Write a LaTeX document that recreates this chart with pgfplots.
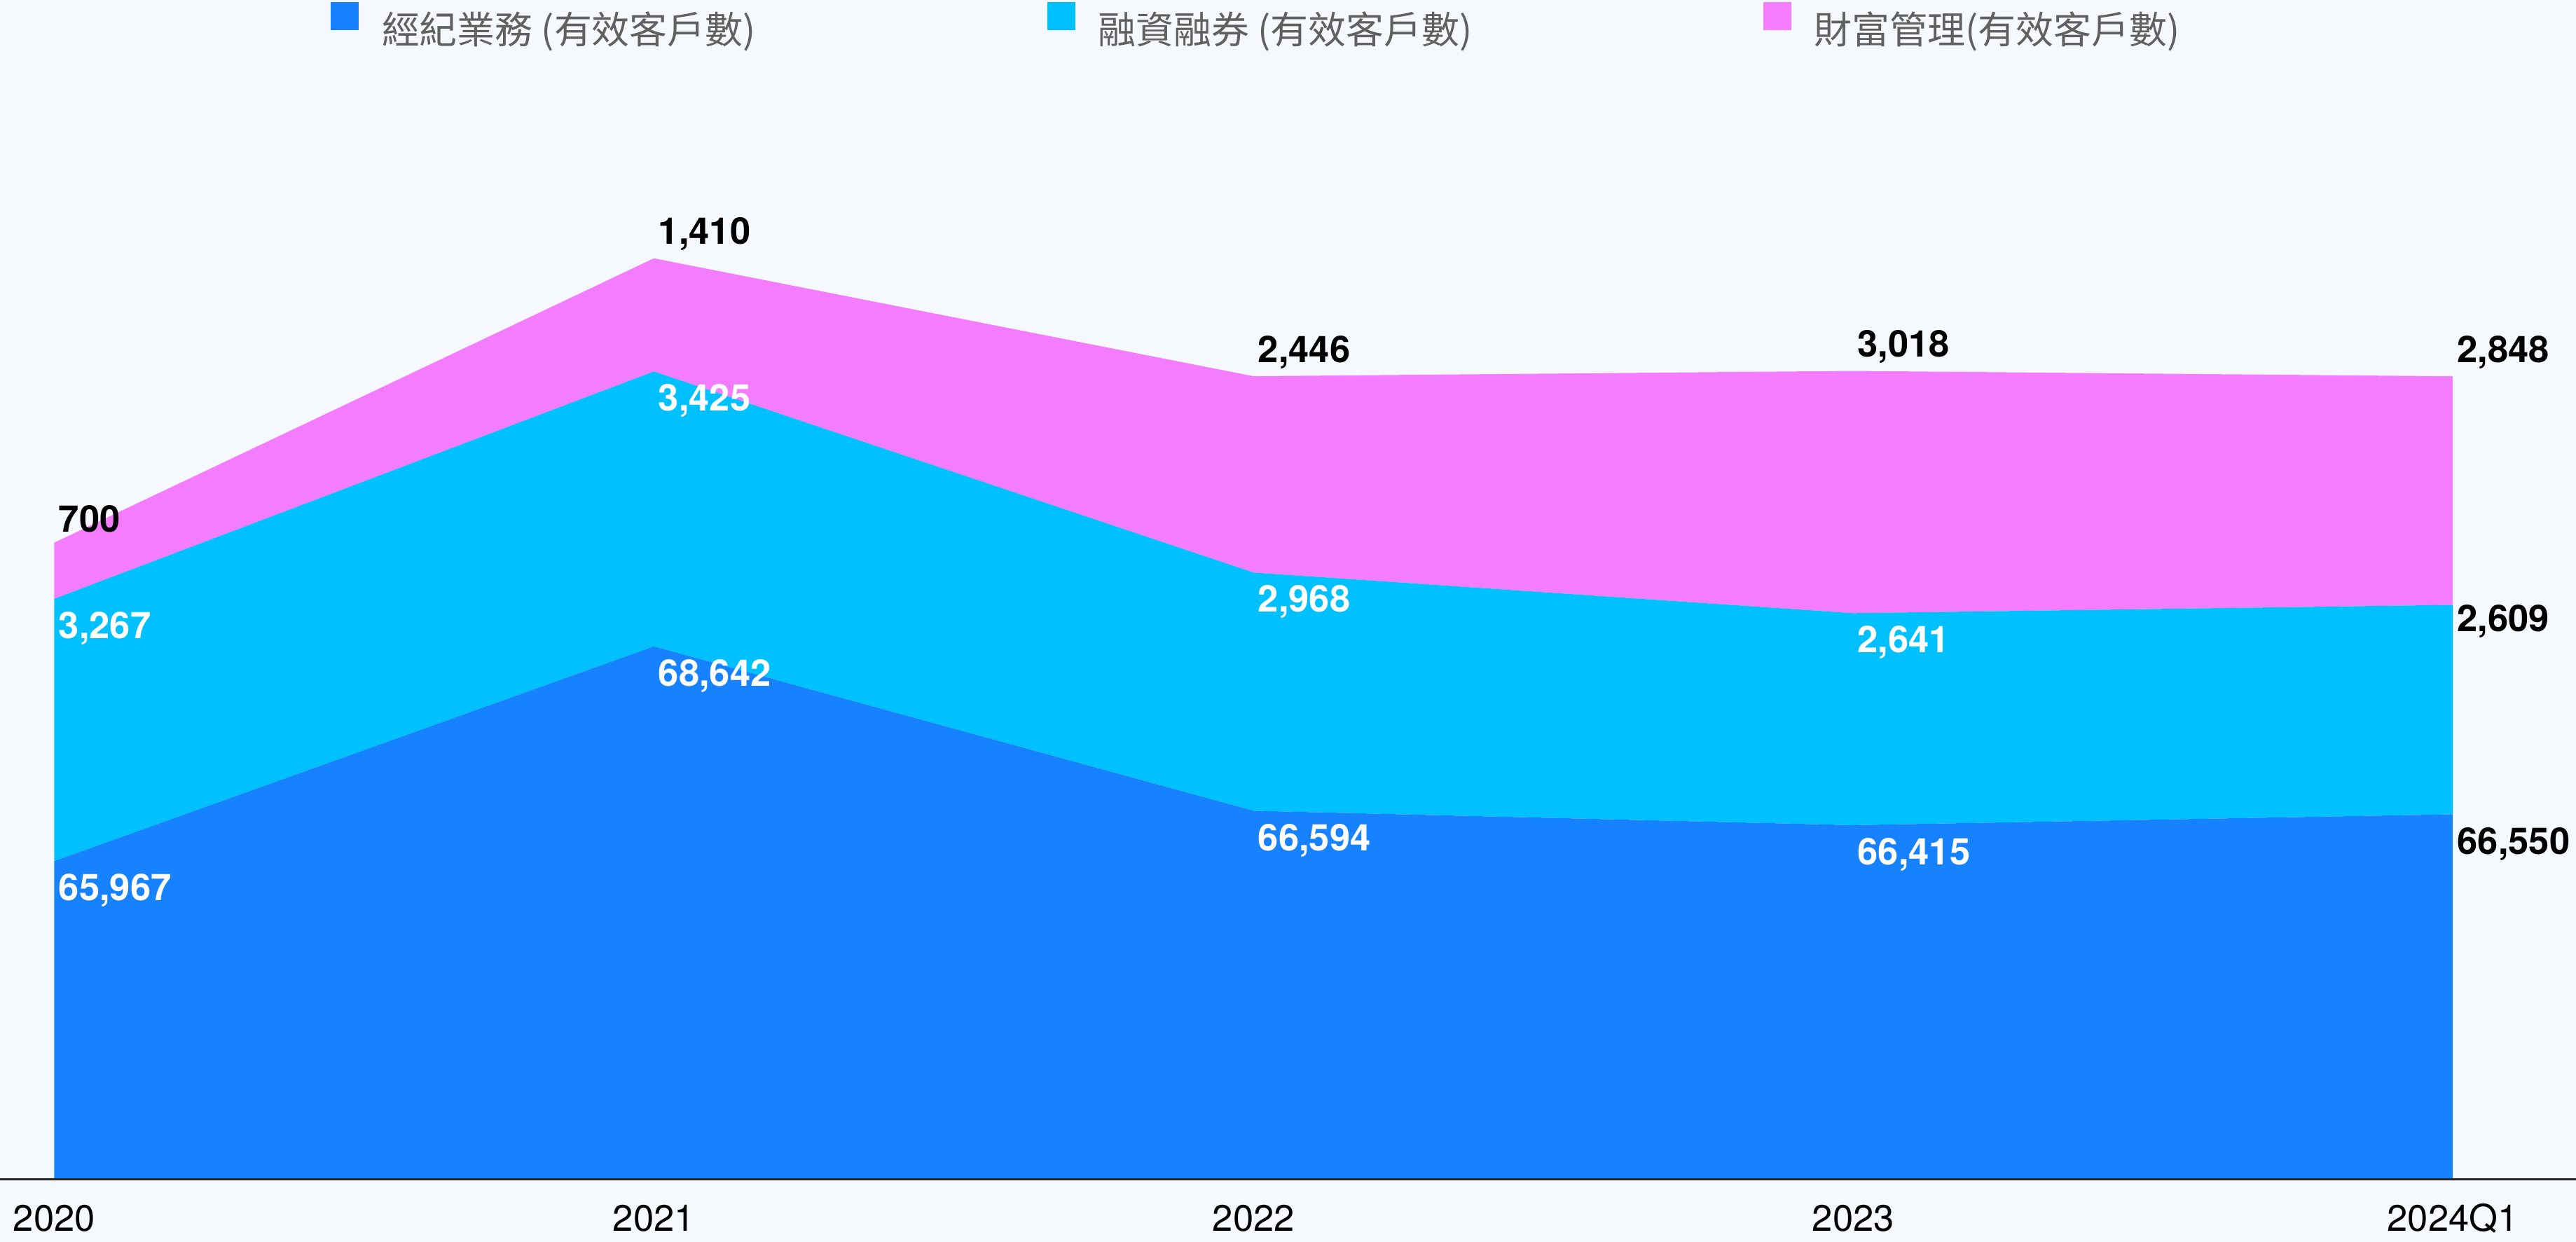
\documentclass[border=0pt]{standalone}
\usepackage{pgfplots}
\pgfplotsset{compat=1.18}
\usepackage{fontspec}
\setmainfont{TeX Gyre Heros}
\newfontfamily\cjk{Noto Sans CJK TC}
\definecolor{bg}{RGB}{245,249,253}
\definecolor{cBlue}{RGB}{22,130,255}
\definecolor{cCyan}{RGB}{0,193,255}
\definecolor{cPink}{RGB}{243,125,254}
\definecolor{legtext}{RGB}{96,96,96}
\begin{document}
\begin{tikzpicture}
\fill[bg] (0pt,-19pt) rectangle (784pt,359pt);
\useasboundingbox (0pt,-19pt) rectangle (784pt,359pt);
\begin{axis}[
  at={(0pt,0pt)}, anchor=south west,
  scale only axis, width=784pt, height=342pt,
  xmin=-0.0904, xmax=4.2055, ymin=62000, ymax=76000,
  stack plots=y,
  axis x line*=bottom, axis y line=none,
  x axis line style={draw=black!85, line width=0.6pt, -},
  xtick={0,1,2,3,4}, xticklabels={2020,2021,2022,2023,2024Q1},
  major tick length=0pt, ytick=\empty,
  xticklabel style={font=\fontsize{11.2}{13}\selectfont, text=black, anchor=base, yshift=-15.8pt},
  axis on top,
  /pgf/number format/assume math mode=true,
  point meta=rawy,
  legend columns=3,
  legend image code/.code={\fill[#1] (0pt,0pt) rectangle (8.5pt,8.5pt);},
  legend style={draw=none, fill=none, inner sep=0pt, nodes={inner sep=0pt},
    at={(axis description cs:0.1282,1)}, anchor=west, yshift=9.2pt,
    font=\fontsize{11.5}{13}\selectfont\cjk, text=legtext,
    /tikz/column sep=0pt},
  visualization depends on={value \coordindex \as \idx},
  nodes near coords={\ifnum\idx=4 \color{black}\fi\pgfmathprintnumber[fixed,precision=0,1000 sep={,}]{\pgfplotspointmeta}},
  every node near coord/.append style={font=\fontsize{11.2}{13}\selectfont\bfseries, anchor=west, xshift=1.2pt, inner sep=0pt},
]
\addplot[fill=cBlue, draw=none, mark=none,
  every node near coord/.append style={text=white, yshift=-9pt}]
  coordinates {(0,65967) (1,68642) (2,66594) (3,66415) (4,66550)} \closedcycle;
\addlegendentry{\hspace{7pt}\makebox[202.5pt][l]{經紀業務 (有效客戶數)}}
\addplot[fill=cCyan, draw=none, mark=none,
  visualization depends on={ifthenelse(\coordindex==4,-5,-9) \as \ys},
  every node near coord/.append style={text=white, yshift=\ys pt}]
  coordinates {(0,3267) (1,3425) (2,2968) (3,2641) (4,2609)} \closedcycle;
\addlegendentry{\hspace{7pt}\makebox[202.5pt][l]{融資融券 (有效客戶數)}}
\addplot[fill=cPink, draw=none, mark=none,
  every node near coord/.append style={text=black, yshift=7.3pt}]
  coordinates {(0,700) (1,1410) (2,2446) (3,3018) (4,2848)} \closedcycle;
\addlegendentry{\hspace{7pt}\makebox[202.5pt][l]{財富管理(有效客戶數)}}
\end{axis}
\end{tikzpicture}
\end{document}
